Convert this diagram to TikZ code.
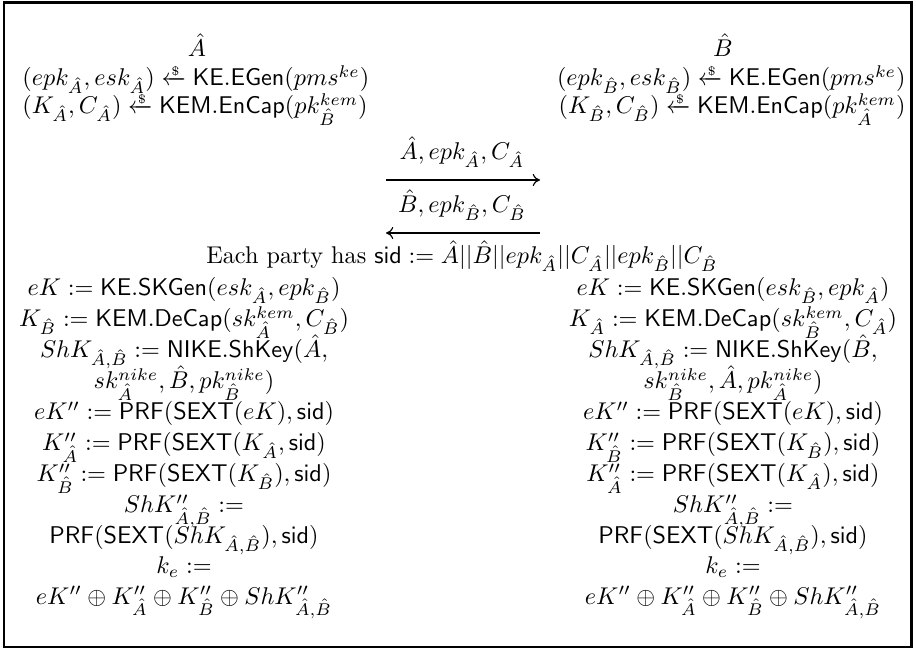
\documentclass[tikz,border=0pt]{standalone}
\usepackage{amsmath}
\usetikzlibrary{arrows.meta}
\newcommand{\hA}{\hat{A}}
\newcommand{\hB}{\hat{B}}
\newcommand{\sfn}[1]{\mathsf{#1}}
\newcommand{\smp}{\xleftarrow{\smash{\raisebox{-0.35ex}{$\scriptscriptstyle\$$}}}}
\begin{document}
\begin{tikzpicture}[x=0.413pt,y=-0.413pt,
  row/.style={inner sep=0pt,anchor=base},
  lrow/.style={inner sep=0pt,anchor=base west},
  rrow/.style={inner sep=0pt,anchor=base east},
  msg/.style={line width=0.5pt,-{Computer Modern Rightarrow[length=3pt,width=5pt]}},
  frame/.style={line width=1.1pt}]
\useasboundingbox (0,0) rectangle (916,650);
\draw[frame] (4,2.5) rectangle (911.5,647);
% parties
\node[row] (pa) at (197,57) {$\hA$};
\node[row] (pb) at (723,57) {$\hB$};
% top left
\node[lrow] (la1) at (22,86) {$(epk_{\hA},esk_{\hA}) \smp \sfn{KE.EGen}(pms^{ke})$};
\node[lrow] (la2) at (22,114) {$(K_{\hA},C_{\hA}) \smp \sfn{KEM.EnCap}(pk^{kem}_{\hB})$};
% top right
\node[rrow] (rb1) at (906,86) {$(epk_{\hB},esk_{\hB}) \smp \sfn{KE.EGen}(pms^{ke})$};
\node[rrow] (rb2) at (906,114) {$(K_{\hB},C_{\hB}) \smp \sfn{KEM.EnCap}(pk^{kem}_{\hA})$};
% messages
\coordinate (m1s) at (386,180);
\coordinate (m1e) at (540,180);
\coordinate (m2s) at (540,233);
\coordinate (m2e) at (386,233);
\node[row] (l1) at (462,160) {$\hA,epk_{\hA},C_{\hA}$};
\node[row] (l2) at (462,213) {$\hB,epk_{\hB},C_{\hB}$};
\draw[msg] (m1s) -- (m1e);
\draw[msg] (m2s) -- (m2e);
% session id
\node[row] (sid) at (462,264) {Each party has $\sfn{sid} := \hA||\hB||epk_{\hA}||C_{\hA}||epk_{\hB}||C_{\hB}$};
% left computations
\node[row] (a1) at (184,296) {$eK := \sfn{KE.SKGen}(esk_{\hA},epk_{\hB})$};
\node[row] (a2) at (184,327) {$K_{\hB} := \sfn{KEM.DeCap}(sk^{kem}_{\hA},C_{\hB})$};
\node[row] (a3) at (184,358) {$ShK_{\hA,\hB} := \sfn{NIKE.ShKey}(\hA,$};
\node[row] (a4) at (184,389) {$sk^{nike}_{\hA},\hB,pk^{nike}_{\hB})$};
\node[row] (a5) at (184,420) {$eK'' := \sfn{PRF}(\sfn{SEXT}(eK),\sfn{sid})$};
\node[row] (a6) at (184,451) {$K''_{\hA} := \sfn{PRF}(\sfn{SEXT}(K_{\hA},\sfn{sid})$};
\node[row] (a7) at (184,482) {$K''_{\hB} := \sfn{PRF}(\sfn{SEXT}(K_{\hB}),\sfn{sid})$};
\node[row] (a8) at (184,513) {$ShK''_{\hA,\hB} :=$};
\node[row] (a9) at (184,544) {$\sfn{PRF}(\sfn{SEXT}(ShK_{\hA,\hB}),\sfn{sid})$};
\node[row] (a10) at (184,574) {$k_e :=$};
\node[row] (a11) at (184,604) {$eK'' \oplus K''_{\hA} \oplus K''_{\hB} \oplus ShK''_{\hA,\hB}$};
% right computations
\node[row] (b1) at (733,296) {$eK := \sfn{KE.SKGen}(esk_{\hB},epk_{\hA})$};
\node[row] (b2) at (733,327) {$K_{\hA} := \sfn{KEM.DeCap}(sk^{kem}_{\hB},C_{\hA})$};
\node[row] (b3) at (733,358) {$ShK_{\hA,\hB} := \sfn{NIKE.ShKey}(\hB,$};
\node[row] (b4) at (733,389) {$sk^{nike}_{\hB},\hA,pk^{nike}_{\hA})$};
\node[row] (b5) at (733,420) {$eK'' := \sfn{PRF}(\sfn{SEXT}(eK),\sfn{sid})$};
\node[row] (b6) at (733,451) {$K''_{\hB} := \sfn{PRF}(\sfn{SEXT}(K_{\hB}),\sfn{sid})$};
\node[row] (b7) at (733,482) {$K''_{\hA} := \sfn{PRF}(\sfn{SEXT}(K_{\hA}),\sfn{sid})$};
\node[row] (b8) at (733,513) {$ShK''_{\hA,\hB} :=$};
\node[row] (b9) at (733,544) {$\sfn{PRF}(\sfn{SEXT}(ShK_{\hA,\hB}),\sfn{sid})$};
\node[row] (b10) at (733,574) {$k_e :=$};
\node[row] (b11) at (733,604) {$eK'' \oplus K''_{\hA} \oplus K''_{\hB} \oplus ShK''_{\hA,\hB}$};
\end{tikzpicture}
\end{document}
